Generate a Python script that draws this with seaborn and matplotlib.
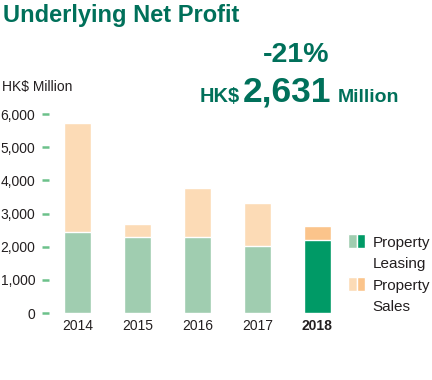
import matplotlib
matplotlib.use("Agg")
import matplotlib.pyplot as plt
import seaborn as sns
import pandas as pd
from matplotlib.patches import Patch
from matplotlib.legend_handler import HandlerTuple

years = ["2014", "2015", "2016", "2017", "2018"]
leasing = [2440, 2280, 2280, 2030, 2215]
sales = [3275, 410, 1490, 1285, 416]

light_green = "#a0cdb0"
dark_green = "#009a66"
light_peach = "#fcdbb6"
peach = "#fbc48b"
teal = "#00705a"
ink = "#231f20"

df = pd.DataFrame({"year": years, "leasing": leasing, "sales": sales})
df["total"] = df["leasing"] + df["sales"]

sns.set_style("white")
plt.rcParams["font.family"] = ["Liberation Sans", "DejaVu Sans"]

fig = plt.figure(figsize=(4.32, 3.80), dpi=100)
ax = fig.add_axes([0.114, 0.176, 0.69, 0.524])

# totals first (sales colour), leasing drawn on top of it
sns.barplot(data=df, x="year", y="total", hue="year",
            palette=[light_peach] * 4 + [peach], legend=False,
            width=0.45, saturation=1, ax=ax)
sns.barplot(data=df, x="year", y="leasing", hue="year",
            palette=[light_green] * 4 + [dark_green], legend=False,
            width=0.45, saturation=1, ax=ax)

ax.set_ylim(0, 6000)
ax.set_xlim(-0.47, 4.5)
ax.set_yticks(range(0, 6001, 1000))
ax.set_yticklabels([f"{v:,}" for v in range(0, 6001, 1000)])
ax.set_xlabel("")
ax.set_ylabel("")
sns.despine(ax=ax, left=True, bottom=True)
ax.tick_params(axis="y", length=5, width=1.8, color="#6cc18a", pad=5,
               labelsize=10, labelcolor=ink, left=True)
ax.tick_params(axis="x", length=0, pad=4, labelsize=10, labelcolor=ink)
ax.get_xticklabels()[-1].set_fontweight("bold")

fig.text(0.008, 0.942, "Underlying Net Profit", fontsize=17, fontweight="bold",
         color=teal, va="baseline", ha="left")
fig.text(0.686, 0.837, "-21%", fontsize=20.5, fontweight="bold", color=teal,
         ha="center", va="baseline")
fig.text(0.463, 0.732, "HK$", fontsize=14.4, fontweight="bold", color=teal,
         ha="left", va="baseline")
fig.text(0.5625, 0.732, "2,631", fontsize=25.5, fontweight="bold", color=teal,
         ha="left", va="baseline")
fig.text(0.782, 0.732, "Million", fontsize=14, fontweight="bold", color=teal,
         ha="left", va="baseline")
fig.text(0.005, 0.761, "HK$ Million", fontsize=10, color=ink,
         ha="left", va="baseline")

blank = Patch(facecolor="none", edgecolor="none")
h1 = (Patch(facecolor=light_green), Patch(facecolor=dark_green))
h2 = (Patch(facecolor=light_peach), Patch(facecolor=peach))
leg = fig.legend([h1, blank, h2, blank],
                 ["Property", "Leasing", "Property", "Sales"],
                 handler_map={tuple: HandlerTuple(ndivide=None, pad=0)},
                 loc="upper left", bbox_to_anchor=(0.806, 0.383),
                 frameon=False, fontsize=11, handlelength=1.1,
                 handleheight=1.0, handletextpad=0.5, labelspacing=0.42,
                 borderpad=0, borderaxespad=0, labelcolor=ink)

fig.savefig("out.png", dpi=100)
